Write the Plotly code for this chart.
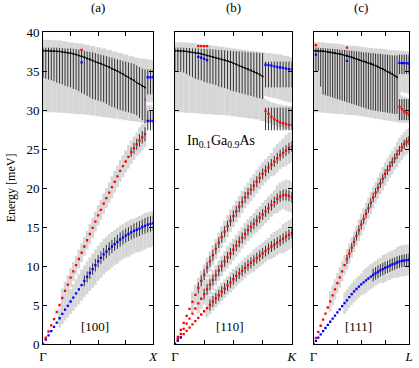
import plotly.graph_objects as go
from plotly.subplots import make_subplots

# q as fraction of the path Gamma -> zone edge (41 samples), optical bands on 21
Q = [i / 40 for i in range(41)]
Q21 = [i / 20 for i in range(21)]

# ---------------- panel (a)  [100]  Gamma-X ----------------
A_TA = [0.0, 0.55, 1.1, 1.65, 2.2, 2.75, 3.3, 3.85, 4.4, 4.9,
        5.45, 5.95, 6.5, 7.0, 7.55, 8.1, 8.6, 9.1, 9.6, 10.1,
        10.6, 11.05, 11.5, 11.85, 12.2, 12.5, 12.8, 13.1, 13.4, 13.65,
        13.9, 14.1, 14.3, 14.5, 14.65, 14.8, 15.0, 15.15, 15.3, 15.4,
        15.5]
A_TA_UP = [None] * 6 + [1.2, 1.3, 1.4, 1.5, 1.6, 1.7, 1.8, 1.9, 2.0, 2.0,
                        2.0, 2.0, 2.0, 2.0, 2.0, 2.0, 2.0, 1.9, 1.9, 1.9,
                        1.8, 1.8, 1.8, 1.7, 1.7, 1.7, 1.7, 1.6, 1.6, 1.6,
                        1.6, 1.6, 1.6, 1.6, 1.6]
A_TA_DN = [None] * 6 + [1.2, 1.3, 1.4, 1.5, 1.6, 1.7, 1.8, 1.9, 2.0, 2.1,
                        2.2, 2.3, 2.4, 2.5, 2.5, 2.6, 2.6, 2.6, 2.7, 2.7,
                        2.7, 2.8, 2.8, 2.8, 2.8, 2.9, 2.9, 2.9, 2.9, 3.0,
                        3.0, 3.0, 3.0, 3.0, 3.0]
A_TA_ERR = [None] * 15 + [0.7, 0.7, 0.75, 0.75, 0.8, 0.8, 0.8, 0.8, 0.85, 0.85,
                          0.85, 0.85, 0.9, 0.9, 0.9, 0.9, 0.9, 0.9, 0.95, 0.95,
                          0.95, 0.95, 1.0, 1.0, 1.0, 1.0]
A_LA = [0.0, 0.8, 1.6, 2.4, 3.2, 4.1, 5.0, 5.9, 6.8, 7.6,
        8.5, 9.3, 10.1, 10.9, 11.7, 12.5, 13.3, 14.1, 14.9, 15.7,
        16.5, 17.2, 18.0, 18.7, 19.4, 20.1, 20.8, 21.5, 22.2, 22.8,
        23.4, 24.0, 24.6, 25.1, 25.6, 26.1, 26.5, 26.9, None, None,
        None]
A_LA_HW = [None] * 7 + [1.2] * 10 + [1.3] * 8 + [1.4] * 6 + [1.5] * 4 + [1.7] * 3 + [None] * 3
A_LA_ERR = [None] * 32 + [0.6, 0.7, 0.7, 0.8, 0.8, 0.9] + [None] * 3
A_OPT = [37.6, 37.6, 37.6, 37.58, 37.55, 37.52, 37.5, 37.45, 37.4, 37.35,
         37.3, 37.2, 37.1, 37.0, 36.9, 36.75, 36.6, 36.5, 36.35, 36.2,
         36.05, 35.95, 35.8, 35.65, 35.5, 35.3, 35.15, 35.0, 34.8, 34.6,
         34.4, 34.2, 34.0, 33.8, 33.5, 33.3, 33.1, 32.9]
A_OPT_TOP = [38.0, 38.0, 38.0, 38.0, 38.0, 38.0, 37.95, 37.95, 37.9, 37.9,
             37.9, 37.85, 37.8, 37.75, 37.7, 37.6, 37.5, 37.45, 37.4, 37.3,
             37.2, 37.1, 37.0, 36.9, 36.8, 36.7, 36.6, 36.5, 36.4, 36.3,
             36.2, 36.1, 36.0, 35.9, 35.7, 35.5, 35.3, 35.2]
A_OPT_BOT = [34.1, 34.0, 33.9, 33.8, 33.7, 33.5, 33.4, 33.3, 33.1, 33.0,
             32.9, 32.7, 32.6, 32.4, 32.2, 32.0, 31.8, 31.6, 31.4, 31.3,
             31.2, 31.1, 31.0, 30.8, 30.6, 30.4, 30.3, 30.1, 30.0, 29.9,
             29.8, 29.7, 29.6, 29.5, 29.3, 29.0, 28.7, 28.3]
A_BAND_TOP = [39.0, 39.0, 38.95, 38.9, 38.8, 38.7, 38.6, 38.5, 38.35, 38.2, 38.05,
              37.9, 37.7, 37.5, 37.3, 37.1, 36.9, 36.7, 36.6, 36.5, 36.4]
A_BAND_BOT = [29.7, 29.7, 29.7, 29.65, 29.6, 29.55, 29.5, 29.45, 29.4, 29.3, 29.2,
              29.1, 29.0, 28.9, 28.8, 28.7, 28.6, 28.5, 28.4, 28.3, 28.3]
A_GAP_TOP = [31.0, 31.0, 31.0]
A_GAP_BOT = [30.6, 30.6, 30.6]
A_EDGE_HI = [34.2, 34.2, 34.2]
A_EDGE_LO = [28.6, 28.6, 28.6]
A_EDGE_HI_BAR = (35.2, 32.0)
A_EDGE_LO_BAR = (29.9, 27.4)
A_PT_I = [14]
A_PT_RED = [37.7]
A_PT_BLUE = [36.1]
A_PT_MAG = (37, 31.3)

# ---------------- panel (b)  [110]  Gamma-K ----------------
B_LA = [0, 0.9, 1.8, 2.7, 3.6, 4.5, 5.4, 6.3, 7.2, 8.1,
        8.9, 9.8, 10.6, 11.4, 12.2, 13.0, 13.7, 14.4, 15.1, 15.8,
        16.4, 17.0, 17.6, 18.2, 18.8, 19.3, 19.8, 20.3, 20.8, 21.3,
        21.8, 22.2, 22.6, 23.0, 23.4, 23.8, 24.2, 24.5, 24.8, 25.1,
        25.3]
B_MID = [0, 0.65, 1.3, 1.95, 2.6, 3.25, 3.9, 4.55, 5.2, 5.8,
         6.4, 7.0, 7.6, 8.2, 8.8, 9.4, 10.0, 10.6, 11.1, 11.6,
         12.1, 12.6, 13.1, 13.6, 14.1, 14.6, 15.0, 15.4, 15.8, 16.2,
         16.6, 17.0, 17.4, 17.8, 18.2, 18.6, 18.9, 19.1, 19.1, 19.0,
         18.8]
B_LOW = [0, 0.42, 0.84, 1.26, 1.68, 2.1, 2.52, 2.94, 3.36, 3.78,
         4.2, 4.6, 5.0, 5.45, 5.85, 6.25, 6.7, 7.1, 7.5, 7.9,
         8.3, 8.7, 9.05, 9.4, 9.75, 10.1, 10.4, 10.7, 11.0, 11.3,
         11.6, 11.9, 12.2, 12.5, 12.75, 13.0, 13.25, 13.5, 13.75, 14.0,
         14.2]
B_LA_HW = [None] * 6 + [1.3] * 10 + [1.4] * 10 + [1.5] * 8 + [1.8] * 4 + [2.0] * 3
B_MID_HW = [None] * 8 + [1.3] * 10 + [1.4] * 10 + [1.5] * 7 + [1.8] * 3 + [2.0] * 3
B_LOW_HW = [None] * 11 + [1.2] * 8 + [1.3] * 8 + [1.4] * 6 + [1.6] * 4 + [1.9] * 4
B_LA_ERR = [None] * 8 + [0.7] * 33
B_MID_ERR = [None] * 10 + [0.7] * 31
B_LOW_ERR = [None] * 12 + [0.7] * 29
B_OPT = [37.6, 37.6, 37.58, 37.55, 37.5, 37.45, 37.4, 37.35, 37.3, 37.2,
         37.1, 37.0, 36.9, 36.8, 36.7, 36.6, 36.5, 36.4, 36.3, 36.15,
         36.0, 35.85, 35.7, 35.55, 35.4, 35.25, 35.1, 34.95, 34.75, 34.55,
         34.3]
B_OPT_TOP = [38.0, 38.0, 38.0, 38.0, 37.95, 37.95, 37.9, 37.9, 37.9, 37.85,
             37.85, 37.8, 37.8, 37.75, 37.75, 37.7, 37.7, 37.65, 37.6, 37.6,
             37.55, 37.55, 37.5, 37.5, 37.45, 37.4, 37.4, 37.35, 37.35, 37.3,
             37.3]
B_OPT_BOT = [35.0, 35.0, 34.9, 34.8, 34.6, 34.4, 34.2, 34.0, 33.9, 33.8,
             33.6, 33.5, 33.4, 33.3, 33.2, 33.0, 32.9, 32.8, 32.7, 32.5,
             32.4, 32.3, 32.2, 32.1, 32.0, 31.9, 31.8, 31.7, 31.6, 31.5,
             31.4]
B_BAND_TOP = [38.7, 38.7, 38.65, 38.6, 38.5, 38.4, 38.3, 38.2, 38.1, 38.0, 37.9,
              37.8, 37.7, 37.6, 37.5, 37.4, 37.3, 37.2, 37.1, 36.95, 36.8]
B_BAND_BOT = [29.7, 29.7, 29.65, 29.6, 29.55, 29.5, 29.45, 29.4, 29.35, 29.3, 29.2,
              29.1, 29.0, 28.9, 28.8, 28.6, 28.3, 28.0, 27.8, 27.6, 27.4]
B_GAP_TOP = [31.8, 31.7, 31.6, 31.5, 31.4, 31.3, 31.2, 31.1, 31.0, 31.0]
B_GAP_BOT = [31.4, 31.2, 31.0, 30.9, 30.8, 30.7, 30.6, 30.6, 30.5, 30.5]
B_EDGE_HI = [35.8, 35.75, 35.7, 35.6, 35.5, 35.45, 35.4, 35.3, 35.25, 35.2]
B_EDGE_LO = [29.9, 29.5, 29.1, 28.8, 28.6, 28.4, 28.3, 28.2, 28.1, 28.1]
B_EDGE_HI_BAR = (36.2, 32.9)
B_EDGE_LO_BAR = (30.3, 27.4)
B_PT_I = [8, 9, 10, 11]
B_PT_RED = [38.2, 38.2, 38.2, 38.2]
B_PT_BLUE = [36.8, 36.7, 36.55, 36.4]

# ---------------- panel (c)  [111]  Gamma-L ----------------
C_TA = [0, 0.41, 0.82, 1.23, 1.64, 2.05, 2.45, 2.85, 3.25, 3.65,
        4.05, 4.45, 4.85, 5.25, 5.6, 6.0, 6.4, 6.75, 7.05, 7.35,
        7.65, 7.9, 8.15, 8.4, 8.65, 8.85, 9.05, 9.25, 9.45, 9.6,
        9.75, 9.9, 10.05, 10.2, 10.3, 10.45, 10.55, 10.65, 10.7, 10.75,
        10.8]
C_TA_HW = [None] * 13 + [1.4] * 8 + [1.6] * 8 + [1.8] * 6 + [2.0] * 6
C_TA_ERR = [None] * 25 + [0.8] * 16
C_LA = [0, 0.78, 1.56, 2.34, 3.12, 3.9, 4.68, 5.46, 6.24, 7.0,
        7.8, 8.55, 9.3, 10.1, 10.85, 11.6, 12.35, 13.1, 13.85, 14.6,
        15.3, 16.0, 16.7, 17.4, 18.1, 18.8, 19.4, 20.0, 20.6, 21.2,
        21.8, 22.3, 22.8, 23.3, 23.8, 24.3, 24.8, 25.2, 25.6, 25.9,
        26.1]
C_LA_HW = [None] * 7 + [1.3] * 12 + [1.4] * 10 + [1.5] * 6 + [1.6] * 6
C_LA_ERR = [None] * 14 + [0.6] * 27
C_OPT = [37.6, 37.6, 37.58, 37.55, 37.52, 37.5, 37.45, 37.4, 37.35, 37.3,
         37.25, 37.2, 37.1, 37.0, 36.95, 36.85, 36.75, 36.65, 36.55, 36.45,
         36.35, 36.25, 36.15, 36.05, 35.95, 35.85, 35.7, 35.55, 35.4, 35.25,
         35.1, 34.95, 34.8, 34.6, 34.4, 34.2]
C_OPT_TOP = [38.0, 38.0, 38.0, 37.95, 37.95, 37.9, 37.9, 37.85, 37.85, 37.8,
             37.8, 37.75, 37.7, 37.7, 37.65, 37.6, 37.6, 37.55, 37.5, 37.5,
             37.45, 37.4, 37.4, 37.35, 37.3, 37.3, 37.25, 37.2, 37.2, 37.15,
             37.1, 37.1, 37.05, 37.0, 37.0, 37.0]
C_OPT_BOT = [35.0, 35.0, 35.0, 33.0, 32.0, 31.9, 31.8, 31.7, 31.6, 31.5,
             31.4, 31.3, 31.2, 31.1, 31.0, 30.9, 30.8, 30.7, 30.6, 30.5,
             30.4, 30.3, 30.2, 30.1, 30.0, 29.95, 29.9, 29.85, 29.8, 29.75,
             29.7, 29.65, 29.6, 29.55, 29.5, 29.5]
C_BAND_TOP = [38.7, 38.7, 38.65, 38.6, 38.55, 38.5, 38.4, 38.3, 38.25, 38.2, 38.1,
              38.0, 37.95, 37.9, 37.85, 37.8, 37.7, 37.65, 37.6, 37.55, 37.5]
C_BAND_BOT = [29.7, 29.7, 29.65, 29.6, 29.55, 29.5, 29.45, 29.4, 29.35, 29.3, 29.2,
              29.1, 29.0, 28.9, 28.8, 28.7, 28.6, 28.5, 28.4, 28.35, 28.3]
C_GAP_TOP = [32.3, 32.2, 32.1, 32.0]
C_GAP_BOT = [31.9, 31.7, 31.6, 31.5]
C_EDGE_HI = [36.05, 36.0, 36.0, 36.0, 35.95]
C_EDGE_LO = [30.4, 30.1, 29.8, 29.6, 29.4]
C_EDGE_HI_BAR = (37.1, 34.6)
C_EDGE_LO_BAR = (31.4, 28.7)
C_PT_I = [1, 14]
C_PT_RED = [38.3, 38.0]
C_PT_BLUE = [37.1, 36.3]

GRAY = "#d6d6d6"
BARC = "#333333"
RED = "#ff0000"
BLUE = "#0000ff"
FONT = "Liberation Serif, Times New Roman, DejaVu Serif, serif"
DOT = 2.3

fig = make_subplots(rows=1, cols=3, column_widths=[1.0, 1.0607, 0.866],
                    horizontal_spacing=22 / 372)


def band(col, xs, lo, hi, width, color=GRAY, clip=True):
    x, b, h = [], [], []
    for xi, l, u in zip(xs, lo, hi):
        if l is None or u is None:
            continue
        x.append(xi)
        b.append(l)
        h.append(u - l)
    fig.add_trace(go.Bar(x=x, y=h, base=b, width=width, opacity=1,
                         marker=dict(color=color, line_width=0), cliponaxis=clip,
                         hoverinfo="skip"), row=1, col=col)


def branch_band(col, vals, up, dn=None):
    dn = dn or up
    lo = [None if v is None or d is None else v - d for v, d in zip(vals, dn)]
    hi = [None if v is None or u is None else v + u for v, u in zip(vals, up)]
    band(col, Q, lo, hi, 0.0251)


def errbars(col, xs, lo, hi):
    x, y, a = [], [], []
    for xi, l, u in zip(xs, lo, hi):
        if l is None or u is None:
            continue
        x.append(xi)
        y.append(l)
        a.append(u - l)
    fig.add_trace(go.Scatter(x=x, y=y, mode="markers",
                             marker=dict(size=1, color="rgba(0,0,0,0)"),
                             error_y=dict(type="data", symmetric=False, array=a,
                                          arrayminus=[0] * len(a), width=0,
                                          thickness=1, color=BARC),
                             hoverinfo="skip"), row=1, col=col)


def branch_err(col, vals, err):
    lo = [None if v is None or e is None else v - e for v, e in zip(vals, err)]
    hi = [None if v is None or e is None else v + e for v, e in zip(vals, err)]
    errbars(col, Q, lo, hi)


def dots(col, xs, ys, color, size=DOT):
    pts = [(x, y) for x, y in zip(xs, ys) if y is not None]
    fig.add_trace(go.Scatter(x=[p[0] for p in pts], y=[p[1] for p in pts],
                             mode="markers",
                             marker=dict(symbol="square", size=size, color=color,
                                         line_width=0),
                             hoverinfo="skip"), row=1, col=col)


def optical_line(col, ys):
    fig.add_trace(go.Scatter(x=Q[:len(ys)], y=ys, mode="lines+markers",
                             line=dict(color="black", width=1),
                             marker=dict(size=2, color="black"),
                             hoverinfo="skip"), row=1, col=col)


def optical_band(col, bot, top, gbot, gtop):
    band(col, Q21, bot, top, 0.0502, clip=False)
    band(col, Q[-len(gtop):], gbot, gtop, 0.0251, color="white")


def edge(col, hi, lo, hibar, lobar):
    n = len(hi)
    xs = Q[-n:]
    errbars(col, xs, [hibar[1]] * n, [hibar[0]] * n)
    errbars(col, xs, [lobar[1]] * n, [lobar[0]] * n)
    dots(col, xs, hi, BLUE)
    dots(col, xs, lo, RED if col > 1 else BLUE)


# panel (a)
optical_band(1, A_BAND_BOT, A_BAND_TOP, A_GAP_BOT, A_GAP_TOP)
branch_band(1, A_TA, A_TA_UP, A_TA_DN)
branch_band(1, A_LA, A_LA_HW)
errbars(1, Q, A_OPT_BOT, A_OPT_TOP)
branch_err(1, A_TA, A_TA_ERR)
branch_err(1, A_LA, A_LA_ERR)
edge(1, A_EDGE_HI, A_EDGE_LO, A_EDGE_HI_BAR, A_EDGE_LO_BAR)
optical_line(1, A_OPT)
dots(1, Q, A_TA, BLUE)
dots(1, Q, A_LA, RED)
dots(1, [Q[i] for i in A_PT_I], A_PT_RED, RED)
dots(1, [Q[i] for i in A_PT_I], A_PT_BLUE, BLUE)
dots(1, [Q[A_PT_MAG[0]]], [A_PT_MAG[1]], "#d020d0", 2)

# panel (b)
optical_band(2, B_BAND_BOT, B_BAND_TOP, B_GAP_BOT, B_GAP_TOP)
branch_band(2, B_LA, B_LA_HW)
branch_band(2, B_MID, B_MID_HW)
branch_band(2, B_LOW, B_LOW_HW)
errbars(2, Q, B_OPT_BOT, B_OPT_TOP)
branch_err(2, B_LA, B_LA_ERR)
branch_err(2, B_MID, B_MID_ERR)
branch_err(2, B_LOW, B_LOW_ERR)
edge(2, B_EDGE_HI, B_EDGE_LO, B_EDGE_HI_BAR, B_EDGE_LO_BAR)
optical_line(2, B_OPT)
dots(2, Q, B_LA, RED)
dots(2, Q, B_MID, RED)
dots(2, Q, B_LOW, RED)
dots(2, Q[:3], B_LOW[:3], BLUE)
dots(2, [Q[i] for i in B_PT_I], B_PT_RED, RED)
dots(2, [Q[i] for i in B_PT_I], B_PT_BLUE, BLUE)

# panel (c)
optical_band(3, C_BAND_BOT, C_BAND_TOP, C_GAP_BOT, C_GAP_TOP)
branch_band(3, C_TA, C_TA_HW)
branch_band(3, C_LA, C_LA_HW)
errbars(3, Q, C_OPT_BOT, C_OPT_TOP)
branch_err(3, C_TA, C_TA_ERR)
branch_err(3, C_LA, C_LA_ERR)
edge(3, C_EDGE_HI, C_EDGE_LO, C_EDGE_HI_BAR, C_EDGE_LO_BAR)
optical_line(3, C_OPT)
dots(3, Q, C_TA, BLUE)
dots(3, Q, C_LA, RED)
dots(3, [Q[i] for i in C_PT_I], C_PT_RED, RED)
dots(3, [Q[i] for i in C_PT_I], C_PT_BLUE, BLUE)

ends = ["<i>X</i>", "<i>K</i>", "<i>L</i>"]
for c in range(1, 4):
    fig.update_xaxes(range=[0, 1], tickvals=[0, 0.25, 0.5, 0.75, 1],
                     ticktext=["Γ", "", "", "", ends[c - 1]],
                     ticks="inside", ticklen=4, tickcolor="black",
                     showline=True, linecolor="black", linewidth=1,
                     mirror="ticks", showgrid=False, zeroline=False,
                     ticklabelstandoff=0,
                     tickfont=dict(family=FONT, size=13, color="black"), row=1, col=c)
    fig.update_yaxes(range=[0, 40], dtick=5, ticks="inside", ticklen=4,
                     tickcolor="black", showline=True, linecolor="black",
                     linewidth=1, mirror="ticks", showgrid=False, zeroline=False,
                     showticklabels=(c == 1),
                     tickfont=dict(family=FONT, size=13, color="black"),
                     row=1, col=c)
fig.update_yaxes(title=dict(text="Energy [meV]",
                            font=dict(family=FONT, size=12, color="black"),
                            standoff=8),
                 row=1, col=1)

labels = ["(a)", "(b)", "(c)"]
dirs = ["[100]", "[110]", "[111]"]
for c in range(1, 4):
    xr = "x domain" if c == 1 else f"x{c} domain"
    fig.add_annotation(text=labels[c - 1], xref=xr, x=0.5, yref="paper", y=1,
                       yanchor="middle", yshift=25, showarrow=False,
                       font=dict(family=FONT, size=13, color="black"))
    fig.add_annotation(text=dirs[c - 1], xref=xr, x=0.47, yref=f"y{c if c > 1 else ''}",
                       y=2.3, showarrow=False,
                       font=dict(family=FONT, size=13, color="black"))
fig.add_annotation(text="In<sub>0.1</sub>Ga<sub>0.9</sub>As", xref="x2", x=0.39,
                   yref="y2", y=26.0, showarrow=False,
                   font=dict(family=FONT, size=14, color="black"))

fig.update_layout(width=419, height=368, margin=dict(l=43, r=4, t=32, b=17),
                  plot_bgcolor="white", paper_bgcolor="white", barmode="overlay",
                  showlegend=False, hovermode=False,
                  font=dict(family=FONT, color="black"))

# the page's default body margin would shift the 419x368 figure off the window
fig.write_html("out.html", config={"displayModeBar": False},
               post_script="document.body.style.margin='0px';")
